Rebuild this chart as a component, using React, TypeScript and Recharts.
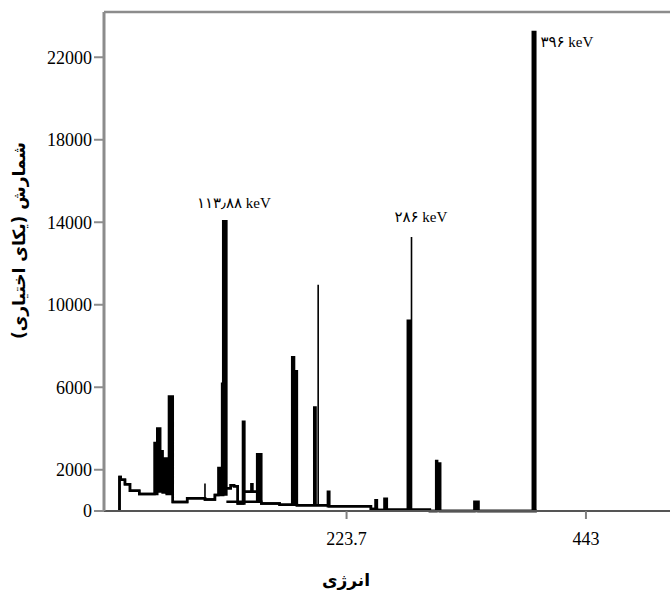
import React from 'react';
import { ComposedChart, Area, Line, Scatter, XAxis, YAxis, ReferenceLine } from 'recharts';

// stepped spectrum: [energy, lower edge, upper edge] (stepAfter)
const spectrum: [number, number, number][] = [
  [15.7, 0, 0],
  [15.7, 1650, 1650],
  [16.8, 1520, 1520],
  [20.7, 1300, 1300],
  [25.3, 980, 980],
  [33.8, 820, 820],
  [47.8, 820, 3300],
  [50.3, 950, 4000],
  [53.0, 1100, 2900],
  [55.2, 900, 2550],
  [58.9, 820, 900],
  [61.0, 820, 5550],
  [64.5, 440, 440],
  [77.7, 620, 620],
  [94.0, 560, 560],
  [103.1, 780, 780],
  [106.3, 780, 2080],
  [109.7, 780, 6170],
  [110.7, 800, 14050],
  [113.6, 1100, 1100],
  [117.6, 1250, 1250],
  [120.6, 1200, 1200],
  [124.0, 360, 360],
  [128.8, 360, 4330],
  [130.1, 930, 930],
  [136.5, 930, 1300],
  [137.5, 930, 930],
  [141.8, 450, 2750],
  [145.6, 360, 360],
  [162.4, 300, 300],
  [173.9, 300, 7450],
  [175.6, 300, 6770],
  [178.2, 280, 280],
  [194.1, 280, 5020],
  [195.3, 280, 280],
  [206.6, 230, 930],
  [207.9, 230, 230],
  [246.0, 100, 100],
  [250.2, 100, 520],
  [251.5, 50, 50],
  [258.4, 50, 600],
  [260.6, 60, 60],
  [279.8, 60, 9220],
  [282.1, 60, 60],
  [300.0, 0, 0],
  [305.8, 0, 2420],
  [306.7, 0, 2300],
  [309.5, 0, 0],
  [340.8, 0, 450],
  [344.6, 0, 0],
  [394.3, 0, 23230],
  [396.6, 0, 0],
  [398.0, 0, 0],
];

// thin single-channel spikes: [energy, from, to]
const spikes: [number, number, number][] = [
  [94.0, 600, 1330],
  [197.7, 280, 10970],
  [283.2, 60, 13290],
];

// lower trace under the 113-146 keV cluster
const lowerTrace = [
  { e: 113.6, c: 450 },
  { e: 145.6, c: 450 },
];

const peakLabels = [
  { e: 120.5, c: 14930, text: '۱۱۳٫۸۸ keV' },
  { e: 291.8, c: 14250, text: '۲۸۶ keV' },
  { e: 425.5, c: 22740, text: '۳۹۶ keV' },
];

const yTicks = [0, 2000, 6000, 10000, 14000, 18000, 22000];
const xTicks = [223.7, 443];
const xDomain = [1.5, 520];
const yMax = 24194;

const SERIF = "'Liberation Serif', 'DejaVu Serif', 'DejaVu Sans', serif";
const FA = "'DejaVu Sans', sans-serif";

const data = spectrum.map(([e, lo, hi]) => ({ e, r: [lo, hi] }));
const spikeData = spikes.flatMap(([e, lo, hi]) => [
  { e, c: lo },
  { e, c: hi },
  { e, c: null },
]);

const YTitle = (props: any) => {
  const vb = props.viewBox;
  const x = 19;
  const y = vb.y + vb.height / 2 - 21;
  return (
    <text
      x={x}
      y={y}
      transform={`rotate(-90 ${x} ${y})`}
      textAnchor="middle"
      dominantBaseline="central"
      direction="rtl"
      style={{ direction: 'rtl' }}
      fontFamily={FA}
      fontWeight="bold"
      fontSize={17}
      fill="#000"
    >
      شمارش (یکای اختیاری)
    </text>
  );
};

const XTitle = (props: any) => {
  const vb = props.viewBox;
  return (
    <text
      x={vb.x + 242}
      y={vb.y + 69}
      textAnchor="middle"
      dominantBaseline="central"
      fontFamily={FA}
      fontWeight="bold"
      fontSize={17}
      fill="#000"
    >
      انرژی
    </text>
  );
};

const PeakText = (p: any) => (
  <text
    x={p.cx}
    y={p.cy}
    textAnchor="middle"
    dominantBaseline="central"
    fontFamily={SERIF}
    fontSize={15}
    fill="#000"
  >
    {p.payload.text}
  </text>
);

export default function App() {
  return (
    <div style={{ position: 'absolute', left: 0, top: 0 }}>
      <ComposedChart width={670} height={590} data={data} margin={{ top: 12, right: 0, bottom: 0, left: 0 }}>
        <XAxis
          type="number"
          dataKey="e"
          domain={xDomain}
          ticks={xTicks}
          height={79}
          axisLine={{ stroke: '#555', strokeWidth: 2 }}
          tickLine={{ stroke: '#808080', strokeWidth: 2 }}
          tickSize={8}
          tickMargin={13}
          tick={{ fontFamily: SERIF, fontSize: 18, fill: '#000' }}
          label={<XTitle />}
        />
        <YAxis
          type="number"
          domain={[0, yMax]}
          ticks={yTicks}
          interval={0}
          width={104}
          axisLine={{ stroke: '#8c8c8c', strokeWidth: 3 }}
          tickLine={{ stroke: '#8c8c8c', strokeWidth: 2 }}
          tickSize={10}
          tickMargin={2}
          tick={{ fontFamily: SERIF, fontSize: 18, fill: '#000' }}
          label={<YTitle />}
        />
        <ReferenceLine y={yMax} stroke="#8c8c8c" strokeWidth={2.5} />
        <Area
          type="stepAfter"
          dataKey="r"
          stroke="#000"
          strokeWidth={2.5}
          fill="#000"
          fillOpacity={1}
          dot={false}
          activeDot={false}
          isAnimationActive={false}
        />
        <Line
          data={lowerTrace}
          type="linear"
          dataKey="c"
          stroke="#000"
          strokeWidth={2.5}
          dot={false}
          activeDot={false}
          isAnimationActive={false}
        />
        <Line
          data={spikeData}
          type="linear"
          dataKey="c"
          stroke="#000"
          strokeWidth={1.6}
          dot={false}
          activeDot={false}
          connectNulls={false}
          isAnimationActive={false}
        />
        <Scatter data={peakLabels} dataKey="c" shape={<PeakText />} isAnimationActive={false} />
      </ComposedChart>
    </div>
  );
}
